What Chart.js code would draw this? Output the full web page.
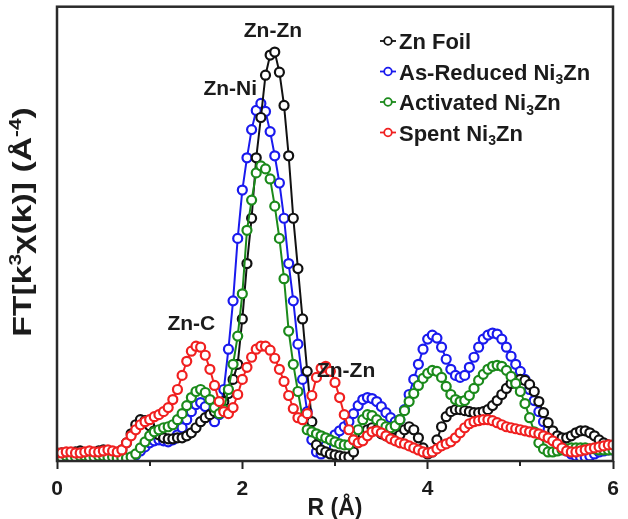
<!DOCTYPE html>
<html>
<head>
<meta charset="utf-8">
<script src="https://cdn.jsdelivr.net/npm/chart.js@4.4.1/dist/chart.umd.min.js"></script>
<style>
  html, body { margin: 0; padding: 0; background: #ffffff; }
  #wrap { width: 628px; height: 519px; }
</style>
</head>
<body>
<div id="wrap"><canvas id="ft" width="628" height="519"></canvas></div>
<script>
// Radial distance R (Å)
const rValues = [
  0.00,0.05,0.10,0.15,0.20,0.25,0.30,0.35,0.40,0.45,
  0.50,0.55,0.60,0.65,0.70,0.75,0.80,0.85,0.90,0.95,
  1.00,1.05,1.10,1.15,1.20,1.25,1.30,1.35,1.40,1.45,
  1.50,1.55,1.60,1.65,1.70,1.75,1.80,1.85,1.90,1.95,
  2.00,2.05,2.10,2.15,2.20,2.25,2.30,2.35,2.40,2.45,
  2.50,2.55,2.60,2.65,2.70,2.75,2.80,2.85,2.90,2.95,
  3.00,3.05,3.10,3.15,3.20,3.25,3.30,3.35,3.40,3.45,
  3.50,3.55,3.60,3.65,3.70,3.75,3.80,3.85,3.90,3.95,
  4.00,4.05,4.10,4.15,4.20,4.25,4.30,4.35,4.40,4.45,
  4.50,4.55,4.60,4.65,4.70,4.75,4.80,4.85,4.90,4.95,
  5.00,5.05,5.10,5.15,5.20,5.25,5.30,5.35,5.40,5.45,
  5.50,5.55,5.60,5.65,5.70,5.75,5.80,5.85,5.90,5.95,
  6.00
];

// |FT[k^3 chi(k)]| magnitudes
const znFoil = [
  0.6,0.7,0.7,0.6,0.8,0.9,0.7,0.6,0.7,0.9,
  1.0,0.8,0.6,0.7,1.0,1.7,2.6,3.5,4.0,3.9,
  3.4,2.9,2.5,2.2,2.1,2.1,2.2,2.2,2.4,2.7,
  3.2,3.8,4.2,4.5,4.8,5.2,5.8,6.6,8.0,9.5,
  14.0,19.5,24.0,30.0,34.0,38.2,40.2,40.5,38.5,35.2,
  30.2,24.0,19.0,14.0,8.8,3.8,1.5,1.0,0.8,0.6,
  0.5,0.4,0.3,0.3,0.8,1.8,2.6,3.0,3.2,3.0,
  2.6,2.4,2.2,2.2,2.5,3.0,3.3,3.0,2.2,1.2,
  0.6,0.8,2.0,3.3,4.3,4.8,5.0,5.0,4.9,4.8,
  4.7,4.7,4.8,5.0,5.4,5.9,6.5,7.1,7.6,7.9,
  8.0,7.9,7.5,6.8,5.8,4.7,3.7,2.9,2.4,2.2,
  2.2,2.4,2.7,2.9,2.9,2.7,2.4,2.0,1.7,1.5,
  1.4
];
const asReduced = [
  0.4,0.4,0.5,0.4,0.4,0.5,0.5,0.4,0.4,0.5,
  0.5,0.4,0.3,0.2,0.1,0.1,0.2,0.5,0.9,1.3,
  1.7,1.9,2.0,1.9,1.8,2.0,2.5,3.2,4.0,4.8,
  5.5,5.7,5.3,4.5,3.8,4.5,7.0,11.0,15.8,22.0,
  26.8,30.0,32.8,34.7,35.4,34.6,32.6,30.2,27.5,24.0,
  19.5,15.8,11.5,8.0,4.8,2.0,0.8,0.6,1.4,2.0,
  2.5,2.9,3.3,3.8,4.6,5.4,6.0,6.2,6.1,5.8,
  5.3,4.7,4.2,3.8,4.0,5.0,6.5,8.0,9.5,11.0,
  12.0,12.4,12.1,11.2,10.0,9.0,8.4,8.2,8.4,9.2,
  10.2,11.2,12.0,12.4,12.6,12.5,12.0,11.2,10.3,9.5,
  8.8,8.0,7.0,5.9,4.8,3.8,3.0,2.4,1.8,1.3,
  0.9,0.6,0.4,0.3,0.3,0.4,0.6,0.8,0.9,1.0,
  1.0
];
const activated = [
  0.3,0.3,0.4,0.3,0.3,0.4,0.4,0.3,0.3,0.4,
  0.4,0.3,0.3,0.2,0.2,0.2,0.3,0.6,1.2,1.8,
  2.4,2.8,3.0,3.2,3.3,3.5,4.0,4.6,5.4,6.2,
  6.8,7.0,6.7,6.0,5.2,4.6,5.0,7.0,9.5,12.3,
  16.5,22.8,25.8,28.5,29.2,28.9,27.9,25.2,22.0,18.0,
  12.8,9.5,6.8,4.2,3.0,2.8,2.6,2.4,2.2,2.0,
  1.8,1.6,1.5,1.5,2.0,3.0,4.0,4.5,4.4,4.0,
  3.6,3.3,3.2,3.4,4.0,4.9,5.8,6.6,7.4,8.1,
  8.6,8.9,8.8,8.2,7.3,6.5,6.0,5.8,5.9,6.4,
  7.1,7.9,8.5,9.0,9.3,9.4,9.3,8.9,8.3,7.6,
  6.8,5.6,4.2,2.8,1.7,1.1,0.8,0.8,0.9,1.0,
  1.1,1.2,1.2,1.2,1.2,1.1,1.1,1.0,1.0,1.0,
  1.0
];
const spent = [
  0.7,0.7,0.8,0.8,0.7,0.7,0.8,0.9,0.8,0.8,
  0.9,1.0,0.9,0.8,1.0,1.7,2.4,3.0,3.5,3.8,
  4.0,4.3,4.5,4.8,5.2,6.0,7.0,8.4,9.8,10.8,
  11.3,11.2,10.4,9.0,7.4,5.8,4.8,4.6,5.2,6.5,
  8.0,9.2,10.2,11.0,11.3,11.3,10.9,10.1,9.0,7.8,
  6.4,5.1,4.2,4.0,4.6,6.4,8.2,9.1,9.3,8.8,
  7.7,6.2,4.5,3.0,2.0,1.7,1.9,2.4,2.8,2.9,
  2.7,2.4,2.1,1.9,1.7,1.6,1.4,1.2,1.0,0.8,
  0.7,0.8,1.1,1.4,1.6,1.8,2.2,2.7,3.2,3.6,
  3.8,3.9,4.0,4.0,3.9,3.7,3.5,3.3,3.2,3.1,
  3.0,2.9,2.8,2.7,2.6,2.4,2.2,1.9,1.6,1.2,
  0.9,0.8,0.8,0.9,1.0,1.1,1.2,1.3,1.4,1.5,
  1.5
];

const seriesNames = ['Zn Foil', 'As-Reduced Ni₃Zn', 'Activated Ni₃Zn', 'Spent Ni₃Zn'];
const seriesColors = ['#111111', '#1a1aee', '#1b8a1b', '#f02020'];
const seriesValues = [znFoil, asReduced, activated, spent];
// stacking of the curves: lower number is painted later (on top)
const seriesOrder = [2, 3, 1, 0];

const majorTicks = [0, 2, 4, 6];
const minorTicks = [1, 3, 5];

// peak assignments
const peakNames = ['Zn-Zn', 'Zn-Ni', 'Zn-C', 'Zn-Zn'];
const peakR = [2.33, 1.87, 1.45, 3.12];
const peakY = [42.6, 36.8, 13.5, 8.8];

const yTitle = 'FT[k³χ(k)] (Å⁻⁴)';
const xTitle = 'R (Å)';

const TEXT = '#1b1b1b';
const FONT = 'Arial, "Liberation Sans", sans-serif';

// draw text where unicode sub/superscript characters become small shifted glyphs
const SUB = {'₀':'0','₁':'1','₂':'2','₃':'3','₄':'4','₅':'5','₆':'6','₇':'7','₈':'8','₉':'9'};
const SUP = {'⁰':'0','¹':'1','²':'2','³':'3','⁴':'4','⁵':'5','⁶':'6','⁷':'7','⁸':'8','⁹':'9','⁻':'-'};
function richRuns(text) {
  const runs = [];
  for (const ch of text) {
    let kind = 'n', c = ch;
    if (SUB[ch]) { kind = 'sub'; c = SUB[ch]; }
    else if (SUP[ch]) { kind = 'sup'; c = SUP[ch]; }
    const last = runs[runs.length - 1];
    if (last && last.kind === kind) last.t += c; else runs.push({kind, t: c});
  }
  return runs;
}
function richWidth(ctx, text, size) {
  let w = 0;
  for (const r of richRuns(text)) {
    const s = r.kind === 'n' ? size : Math.round(size * 0.62);
    ctx.font = 'bold ' + s + 'px ' + FONT;
    w += ctx.measureText(r.t).width;
  }
  return w;
}
function drawRich(ctx, text, x, y, size) {
  ctx.textBaseline = 'alphabetic';
  ctx.textAlign = 'left';
  let cx = x;
  for (const r of richRuns(text)) {
    const s = r.kind === 'n' ? size : Math.round(size * 0.62);
    ctx.font = 'bold ' + s + 'px ' + FONT;
    let dy = 0;
    if (r.kind === 'sub') dy = size * 0.22;
    if (r.kind === 'sup') dy = -size * 0.38;
    ctx.fillText(r.t, cx, y + dy);
    cx += ctx.measureText(r.t).width;
  }
  return cx - x;
}

const decorations = {
  id: 'decorations',
  afterDatasetsDraw(chart) {
    const {ctx, chartArea: a, scales: {x, y}} = chart;
    ctx.save();

    // frame
    ctx.strokeStyle = '#2a2a2a';
    ctx.lineWidth = 2.5;
    ctx.strokeRect(a.left, a.top, a.right - a.left, a.bottom - a.top);

    // minor ticks
    ctx.strokeStyle = '#222';
    ctx.lineWidth = 2;
    for (const v of minorTicks) {
      const px = Math.round(x.getPixelForValue(v));
      ctx.beginPath();
      ctx.moveTo(px, a.bottom);
      ctx.lineTo(px, a.bottom + 5);
      ctx.stroke();
    }

    // peak labels
    ctx.fillStyle = TEXT;
    ctx.font = 'bold 21px ' + FONT;
    ctx.textAlign = 'center';
    ctx.textBaseline = 'middle';
    peakNames.forEach((t, i) => {
      ctx.fillText(t, x.getPixelForValue(peakR[i]), y.getPixelForValue(peakY[i]));
    });

    // legend
    const lx = 380, ly0 = 41, step = 30.5;
    seriesNames.forEach((name, i) => {
      const cy = ly0 + i * step;
      ctx.strokeStyle = seriesColors[i];
      ctx.lineWidth = 1.8;
      ctx.beginPath();
      ctx.moveTo(lx, cy);
      ctx.lineTo(lx + 16, cy);
      ctx.stroke();
      ctx.fillStyle = '#fff';
      ctx.beginPath();
      ctx.arc(lx + 8, cy, 3.8, 0, Math.PI * 2);
      ctx.fill();
      ctx.stroke();
      ctx.fillStyle = TEXT;
      drawRich(ctx, name, lx + 19, cy + 8, 22);
    });

    // y-axis title, stretched along its length
    ctx.save();
    ctx.translate(22, 222);
    ctx.rotate(-Math.PI / 2);
    ctx.scale(1.3, 1);
    ctx.fillStyle = TEXT;
    const w = richWidth(ctx, yTitle, 26);
    drawRich(ctx, yTitle, -w / 2, 9, 26);
    ctx.restore();

    ctx.restore();
  }
};

const datasets = seriesNames.map((name, i) => ({
  label: name,
  data: rValues.map((r, k) => ({x: r, y: seriesValues[i][k]})),
  borderColor: seriesColors[i],
  borderWidth: 2,
  pointRadius: 4.5,
  pointBorderWidth: 2.2,
  pointBorderColor: seriesColors[i],
  pointBackgroundColor: '#ffffff',
  tension: 0,
  order: seriesOrder[i]
}));

new Chart(document.getElementById('ft'), {
  type: 'line',
  data: {datasets},
  options: {
    responsive: false,
    animation: false,
    devicePixelRatio: 1,
    layout: {padding: {left: 57, right: 15, top: 5, bottom: 0}},
    plugins: {legend: {display: false}, tooltip: {enabled: false}},
    scales: {
      x: {
        type: 'linear',
        min: 0,
        max: 6,
        afterBuildTicks(scale) { scale.ticks = majorTicks.map(v => ({value: v})); },
        afterFit(scale) { scale.height = 58; },
        ticks: {
          font: {family: FONT, size: 21, weight: 'bold', lineHeight: 1.2},
          color: TEXT,
          padding: 8
        },
        grid: {display: true, drawOnChartArea: false, drawTicks: true, tickLength: 8, tickWidth: 2, tickColor: '#222'},
        border: {display: false},
        title: {
          display: true,
          text: xTitle,
          font: {family: FONT, size: 23, weight: 'bold', lineHeight: 0.9},
          color: TEXT,
          padding: {top: 0, bottom: 0}
        }
      },
      y: {
        type: 'linear',
        display: false,
        min: -0.1,
        max: 45
      }
    }
  },
  plugins: [decorations]
});
</script>
</body>
</html>
